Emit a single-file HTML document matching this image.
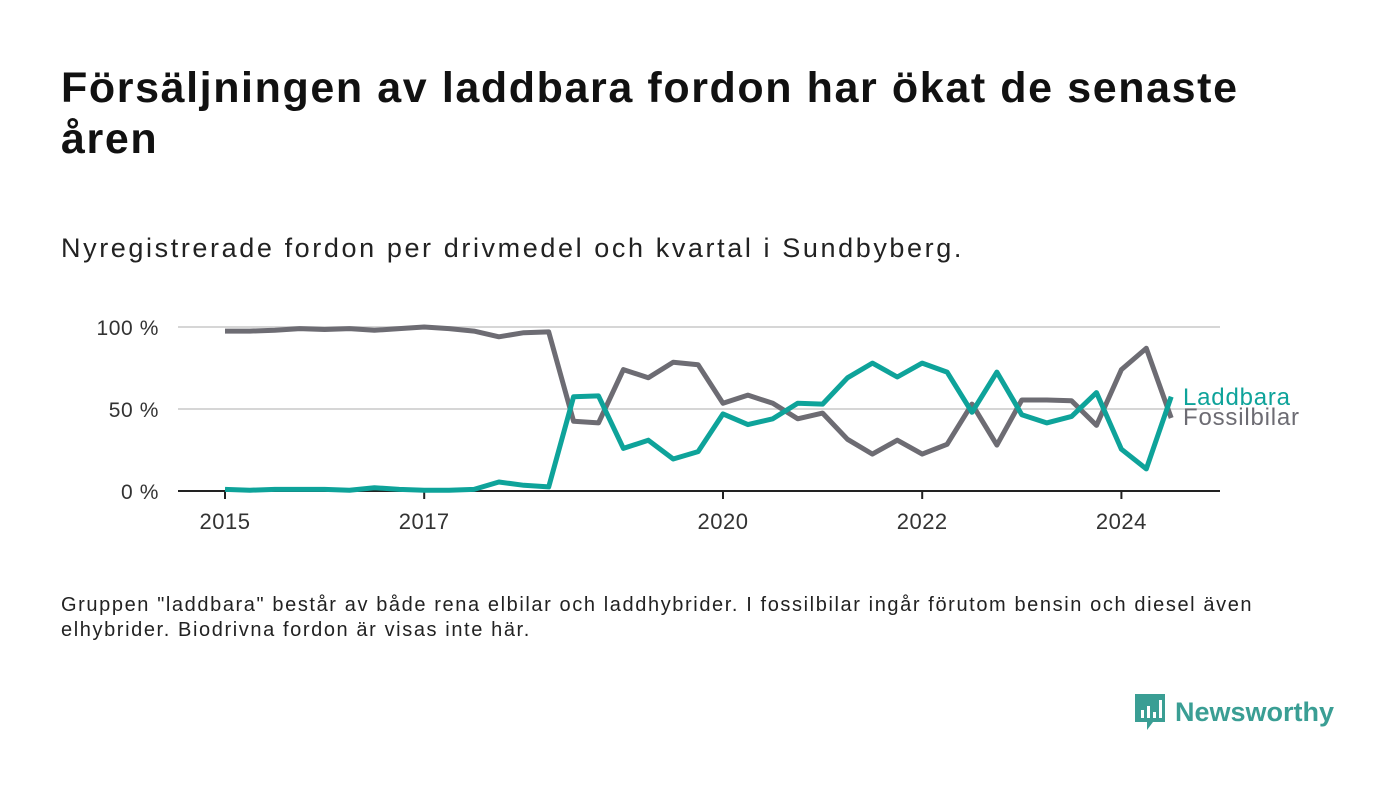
<!DOCTYPE html>
<html><head><meta charset="utf-8"><style>
body{margin:0;width:1400px;height:793px;background:#fff;font-family:"Liberation Sans",sans-serif;position:relative;overflow:hidden;color:#111}
#title{position:absolute;left:61px;top:63px;font-size:43px;font-weight:bold;line-height:51px;width:1300px;margin:0;letter-spacing:1.6px;white-space:nowrap}
#sub{position:absolute;left:61px;top:233px;font-size:27px;color:#222;letter-spacing:2.6px;white-space:nowrap}
#note{position:absolute;left:61px;top:593px;font-size:20px;line-height:25px;color:#222;width:1320px;letter-spacing:1.6px;white-space:nowrap}
#logo{position:absolute;left:1133px;top:692px;display:flex;align-items:center;gap:8px}
#logo span{font-size:27px;font-weight:bold;color:#3a9e94}
svg{position:absolute;left:0;top:0}
</style></head><body>
<h1 id="title">Försäljningen av laddbara fordon har ökat de senaste<br>åren</h1>
<div id="sub">Nyregistrerade fordon per drivmedel och kvartal i Sundbyberg.</div>
<svg id="chart" width="1400" height="793"></svg>
<div id="note">Gruppen "laddbara" består av både rena elbilar och laddhybrider. I fossilbilar ingår förutom bensin och diesel även<br>elhybrider. Biodrivna fordon är visas inte här.</div>
<div id="logo">
<svg width="34" height="40" viewBox="0 0 34 40" style="position:static"><path d="M2 2h30v28H20l-6 8v-8H2z" fill="#3a9e94"/><rect x="8" y="18" width="3" height="8" fill="#fff"/><rect x="14" y="14" width="3" height="12" fill="#fff"/><rect x="20" y="20" width="3" height="6" fill="#fff"/><rect x="26" y="8" width="3" height="18" fill="#fff"/></svg>
<span>Newsworthy</span></div>
<script>
const startYear=2015;
const fossil=[97.5,97.5,98,99,98.5,99,98,99,100,99,97.5,94,96.5,97,42.5,41.5,74,69,78.5,77,53.5,58.5,53.5,44,47.5,31.5,22.5,31,22.5,28.5,53,28,55.5,55.5,55,40,74,87,44.5];
const laddbara=[1,0.5,1,1,1,0.5,2,1,0.5,0.5,1,5.5,3.5,2.5,57.5,58,26,31,19.5,24,47,40.5,44,53.5,53,69,78,69.5,78,72.5,48,72.5,46.5,41.5,45.5,60,25.5,13.5,57.5];
const yTicks=[0,50,100];
const xTicks=[2015,2017,2020,2022,2024];
const NS="http://www.w3.org/2000/svg";
const svg=document.getElementById('chart');
const X=y=>225+(y-2015)*99.6;
const Y=v=>491-v*1.64;
function el(t,a,txt){const e=document.createElementNS(NS,t);for(const k in a)e.setAttribute(k,a[k]);if(txt!==undefined)e.textContent=txt;svg.appendChild(e);return e;}
yTicks.forEach(v=>{
 if(v>0){const g=el('line',{x1:178,x2:1220,y1:Y(v),y2:Y(v),stroke:'#d6d6d6','stroke-width':2});
 
 }
 const t=el('text',{x:159,y:Y(v)+8,'text-anchor':'end','font-size':21,fill:'#333','font-family':'Liberation Sans','letter-spacing':0.6},v+' %');
 
 
});
const ax=el('line',{x1:178,x2:1220,y1:491,y2:491,stroke:'#222','stroke-width':2});


xTicks.forEach(yr=>{
 const tk=el('line',{x1:X(yr),x2:X(yr),y1:491,y2:499,stroke:'#222','stroke-width':2});
 
 
 const t=el('text',{x:X(yr),y:529,'text-anchor':'middle','font-size':22,fill:'#333','font-family':'Liberation Sans','letter-spacing':0.5},yr);
 
 
});
function line(data,color,name){
 const pts=data.map((v,i)=>X(startYear+i*0.25).toFixed(1)+','+Y(v).toFixed(1)).join(' ');
 const p=el('polyline',{points:pts,fill:'none',stroke:color,'stroke-width':5,'stroke-linejoin':'round'});
 
 
}
line(fossil,'#6d6c73','fossil-line');
line(laddbara,'#0ea39a','laddbara-line');
const l1=el('text',{x:1183,y:405,'font-size':24,fill:'#0ea39a','font-family':'Liberation Sans','letter-spacing':0.8},'Laddbara');


const l2=el('text',{x:1183,y:425,'font-size':24,fill:'#6d6c73','font-family':'Liberation Sans','letter-spacing':0.8},'Fossilbilar');


</script>
</body></html>
